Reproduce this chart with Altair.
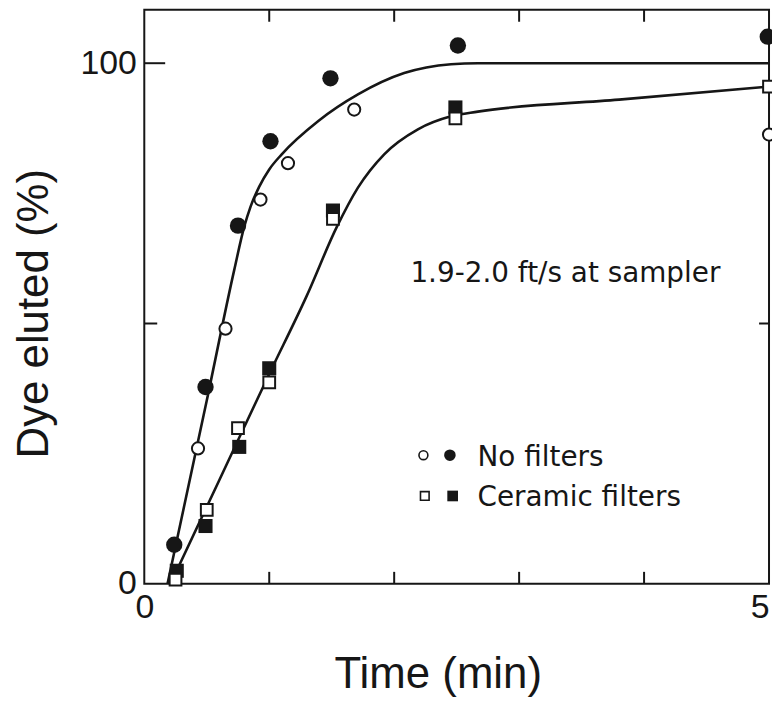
import altair as alt
import pandas as pd

# ---- data ----
nf_filled_t = [0.24, 0.49, 0.75, 1.01, 1.49, 2.51, 4.99]
nf_filled_v = [7.5, 37.8, 68.8, 85.0, 97.1, 103.4, 105.1]
nf_open_t = [0.43, 0.65, 0.93, 1.15, 1.68, 5.0]
nf_open_v = [26.0, 49.0, 73.8, 80.8, 91.1, 86.3]
cf_filled_t = [0.26, 0.49, 0.76, 1.0, 1.51, 2.49]
cf_filled_v = [2.5, 11.1, 26.3, 41.4, 71.7, 91.5]
cf_open_t = [0.25, 0.5, 0.75, 1.0, 1.51, 2.49, 5.0]
cf_open_v = [0.8, 14.2, 29.9, 38.7, 70.1, 89.4, 95.5]

nf_curve_t = [0.186, 0.50, 0.72, 0.80, 0.85, 0.92, 1.00, 1.10, 1.393, 1.71, 2.08, 2.455, 2.67, 5.00]
nf_curve_v = [0, 35.2, 60.3, 68.6, 72.4, 76.3, 79.6, 82.5, 88.9, 94.0, 98.1, 99.8, 100, 100]
cf_curve_t = [0.21, 0.60, 1.00, 1.30, 1.54, 1.71, 1.92, 2.19, 2.455, 2.67, 3.80, 5.00]
cf_curve_v = [0, 19.9, 40.3, 55.3, 68.5, 76.1, 82.5, 87.3, 89.8, 90.7, 93.0, 95.5]

x_ticks = [1, 2, 3, 4]
x_labels = [0, 5]
y_labels = [0, 100]
annotation = "1.9-2.0 ft/s at sampler"
legend_labels = ["No filters", "Ceramic filters"]

# ---- layout ----
W, H = 628, 577
YMAX = 110.26
INK = "#161616"
BODY_FONT = "Liberation Sans"
NOTE_FONT = "DejaVu Sans"

xscale = alt.Scale(domain=[0, 5], nice=False, zero=False)
yscale = alt.Scale(domain=[0, YMAX], nice=False, zero=False)

xaxis = alt.Axis(
    values=x_labels, ticks=False, tickSize=0, domain=False, grid=False,
    labelFont=BODY_FONT, labelFontSize=34, labelColor=INK, labelPadding=7,
    labelAlign={"condition": {"test": "datum.value >= 5", "value": "right"}, "value": "center"},
    title="Time (min)", titleFont=BODY_FONT, titleFontSize=44, titleFontWeight="normal",
    titleColor=INK, titleX=295, titleY=104, titleAlign="center", titleBaseline="alphabetic",
)
yaxis = alt.Axis(
    values=y_labels, ticks=False, tickSize=0, domain=False, grid=False,
    labelFont=BODY_FONT, labelFontSize=34, labelColor=INK, labelPadding=8,
    title="Dye eluted (%)", titleFont=BODY_FONT, titleFontSize=44, titleFontWeight="normal",
    titleColor=INK, titleX=-88, titleY=305, titleAngle=-90, titleAlign="center",
    titleBaseline="bottom",
)


def X(field="t"):
    return alt.X(f"{field}:Q", scale=xscale, axis=xaxis)


def Y(field="v"):
    return alt.Y(f"{field}:Q", scale=yscale, axis=yaxis)


def df(t, v):
    return pd.DataFrame({"t": t, "v": v})


nf_curve = alt.Chart(df(nf_curve_t, nf_curve_v)).mark_line(
    color=INK, strokeWidth=2.6, interpolate="monotone").encode(x=X(), y=Y())
cf_curve = alt.Chart(df(cf_curve_t, cf_curve_v)).mark_line(
    color=INK, strokeWidth=2.6, interpolate="monotone").encode(x=X(), y=Y())

nf_filled = alt.Chart(df(nf_filled_t, nf_filled_v)).mark_point(
    shape="circle", filled=True, color=INK, size=270, opacity=1).encode(x=X(), y=Y())
nf_open = alt.Chart(df(nf_open_t, nf_open_v)).mark_point(
    shape="circle", filled=True, fill="white", stroke=INK, strokeWidth=2, size=150,
    opacity=1, fillOpacity=1).encode(x=X(), y=Y())
cf_filled = alt.Chart(df(cf_filled_t, cf_filled_v)).mark_point(
    shape="square", filled=True, color=INK, size=200, opacity=1).encode(x=X(), y=Y())
cf_open = alt.Chart(df(cf_open_t, cf_open_v)).mark_point(
    shape="square", filled=True, fill="white", stroke=INK, strokeWidth=2, size=140,
    opacity=1, fillOpacity=1).encode(x=X(), y=Y())

# ticks (inward)
tick_df = pd.DataFrame({"t": x_ticks})
bottom_ticks = alt.Chart(tick_df).mark_rule(color=INK, strokeWidth=2).encode(
    x=X(), y=alt.value(H), y2=alt.value(H - 12))
top_ticks = alt.Chart(tick_df).mark_rule(color=INK, strokeWidth=2).encode(
    x=X(), y=alt.value(0), y2=alt.value(12))
left50 = alt.Chart(pd.DataFrame({"v": [50]})).mark_rule(color=INK, strokeWidth=2).encode(
    y=Y(), x=alt.value(0), x2=alt.value(13))
left100 = alt.Chart(pd.DataFrame({"v": [100]})).mark_rule(color=INK, strokeWidth=2).encode(
    y=Y(), x=alt.value(0), x2=alt.value(21))
right50 = alt.Chart(pd.DataFrame({"v": [50]})).mark_rule(color=INK, strokeWidth=2).encode(
    y=Y(), x=alt.value(W), x2=alt.value(W - 10))

# annotation and manual legend (positions in data units)
note = alt.Chart(pd.DataFrame({"t": [3.37], "v": [57.96], "s": [annotation]})).mark_text(
    font=NOTE_FONT, fontSize=28, color=INK, align="center", baseline="alphabetic"
).encode(x=X(), y=Y(), text="s:N")

leg_text = alt.Chart(pd.DataFrame({"t": [2.667, 2.667], "v": [22.6, 14.96],
                                   "s": legend_labels})).mark_text(
    font=NOTE_FONT, fontSize=28, color=INK, align="left", baseline="alphabetic"
).encode(x=X(), y=Y(), text="s:N")
leg_oc = alt.Chart(df([2.234], [24.7])).mark_point(
    shape="circle", filled=True, fill="white", stroke=INK, strokeWidth=1.6, size=80,
    opacity=1).encode(x=X(), y=Y())
leg_fc = alt.Chart(df([2.446], [24.7])).mark_point(
    shape="circle", filled=True, color=INK, size=135, opacity=1).encode(x=X(), y=Y())
leg_os = alt.Chart(df([2.245], [16.87])).mark_point(
    shape="square", filled=True, fill="white", stroke=INK, strokeWidth=1.6, size=75,
    opacity=1).encode(x=X(), y=Y())
leg_fs = alt.Chart(df([2.468], [16.87])).mark_point(
    shape="square", filled=True, color=INK, size=115, opacity=1).encode(x=X(), y=Y())

chart = alt.layer(
    bottom_ticks, top_ticks, left50, left100, right50,
    nf_curve, cf_curve,
    nf_filled, nf_open, cf_filled, cf_open,
    note, leg_text, leg_oc, leg_fc, leg_os, leg_fs,
).properties(
    width=W, height=H, autosize="none",
    padding={"left": 137, "top": 0, "right": 3, "bottom": 113},
    background="white",
).configure_view(stroke=INK, strokeWidth=2)

chart.save("out.html", embed_options={"renderer": "svg", "actions": False})
